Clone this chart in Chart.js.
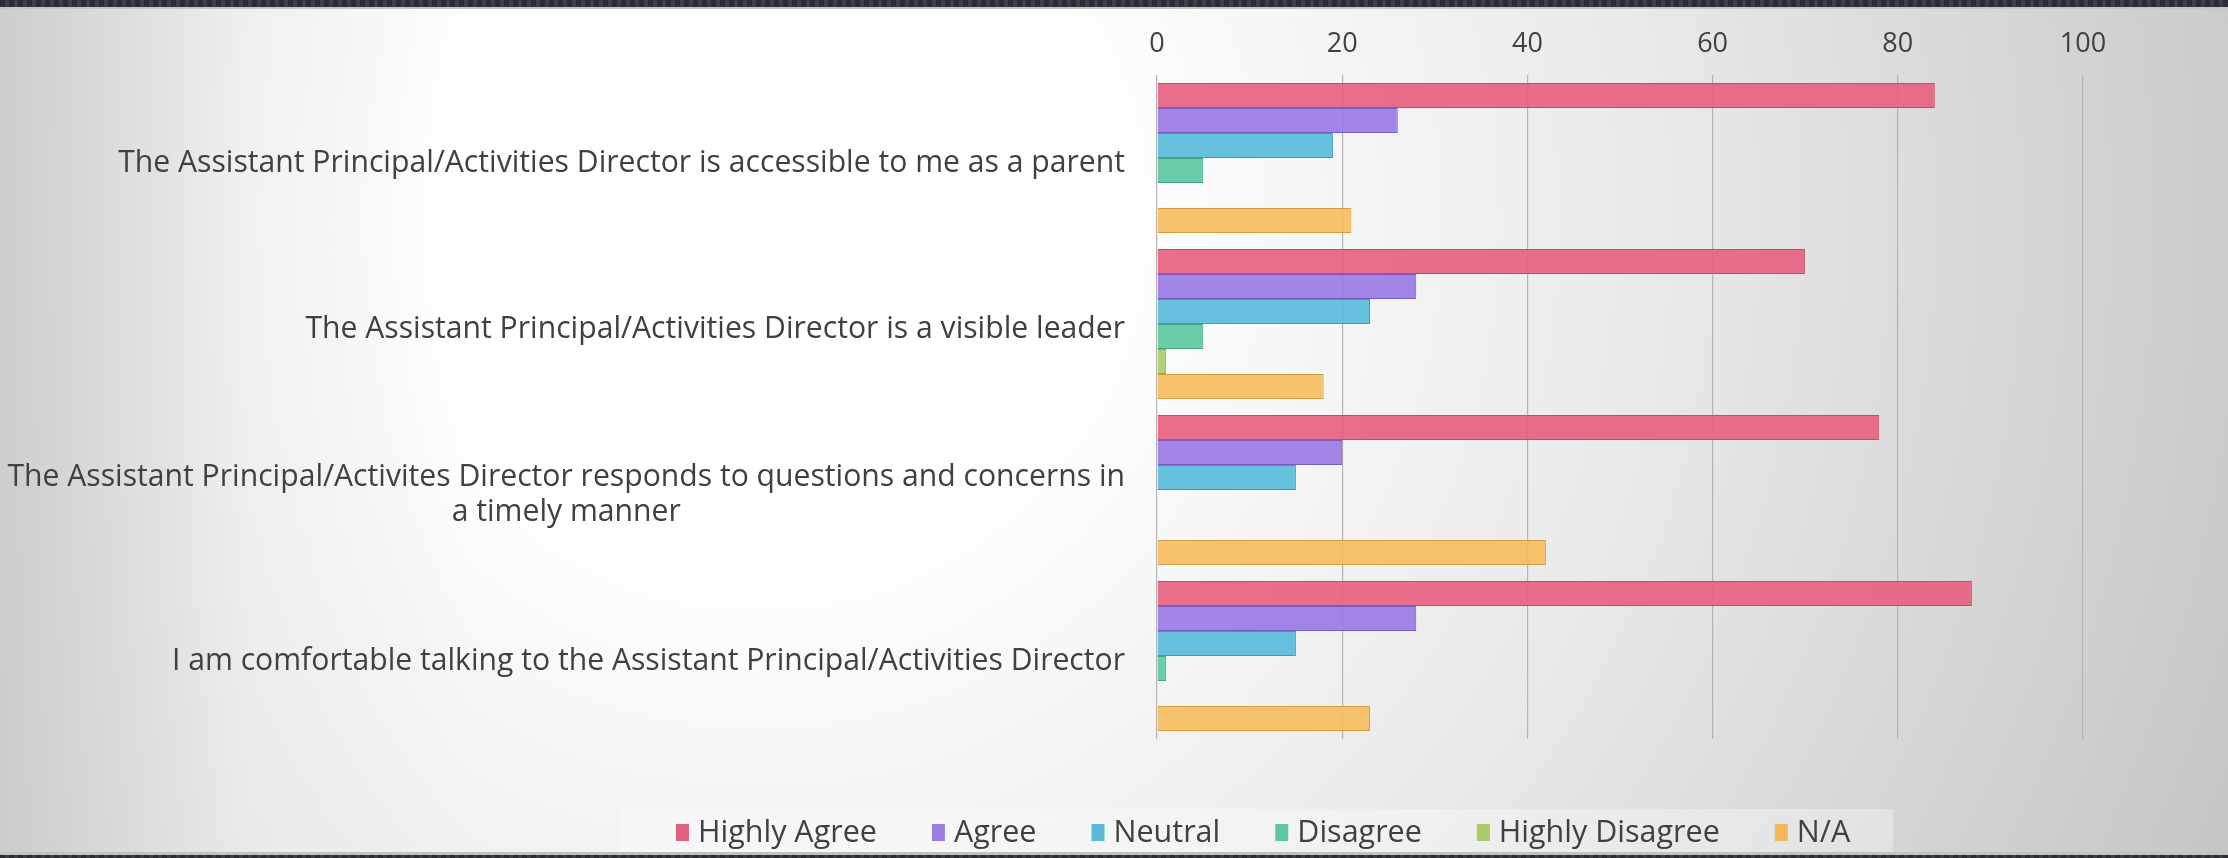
<!DOCTYPE html>
<html>
<head>
<meta charset="utf-8">
<script src="https://cdn.jsdelivr.net/npm/chart.js@4/dist/chart.umd.min.js"></script>
<style>
  html, body { margin: 0; padding: 0; width: 2228px; height: 858px; overflow: hidden; }
  body {
    position: relative;
    background:
      linear-gradient(to right, rgba(200,200,200,0.85) 0px, rgba(230,230,230,0.4) 250px, rgba(255,255,255,0) 470px),
      radial-gradient(circle at 760px 220px, #ffffff 0px, #ffffff 330px, #e9e9e9 900px, #d2d2d2 1350px, #bdbdbd 1750px);
  }
  #topbar { position: absolute; left: 0; top: 0; width: 2228px; height: 7px;
    background: repeating-linear-gradient(90deg, #2a2d34 0 5px, #3b3f48 5px 9px); border-bottom: 2px solid #c6c6c6; }
  #botbar { position: absolute; left: 0; top: 852px; width: 2228px; height: 3px; background: #c2c2c2; }
  #botbar2 { position: absolute; left: 0; top: 855px; width: 2228px; height: 3px;
    background: repeating-linear-gradient(90deg, #2a2d34 0 5px, #3b3f48 5px 9px); }
  #wrap { position: absolute; left: 0; top: 0; width: 2228px; height: 858px; }
</style>
</head>
<body>
<div id="topbar"></div>
<div id="botbar"></div>
<div id="botbar2"></div>
<div id="wrap"><canvas id="c"></canvas></div>
<script>
// ---------- data ----------
const categories = [
  "The Assistant Principal/Activities Director is accessible to me as a parent",
  "The Assistant Principal/Activities Director is a visible leader",
  ["The Assistant Principal/Activites Director responds to questions and concerns in", "a timely manner"],
  "I am comfortable talking to the Assistant Principal/Activities Director"
];
const seriesNames = ["Highly Agree", "Agree", "Neutral", "Disagree", "Highly Disagree", "N/A"];
const highlyAgree    = [84, 70, 78, 88];
const agree          = [26, 28, 20, 28];
const neutral        = [19, 23, 15, 15];
const disagree       = [5, 5, 0, 1];
const highlyDisagree = [0, 1, 0, 0];
const notApplicable  = [21, 18, 42, 23];
const xTicks = [0, 20, 40, 60, 80, 100];

// ---------- styles ----------
const seriesValues = [highlyAgree, agree, neutral, disagree, highlyDisagree, notApplicable];
const fills   = ["rgba(230,98,130,0.92)", "rgba(155,122,229,0.92)", "rgba(88,188,219,0.92)", "rgba(92,202,160,0.92)", "rgba(168,208,106,0.92)", "rgba(246,189,95,0.92)"];
const borders = ["#c24d69", "#7a5cc4", "#3c9bba", "#3ea680", "#86ad4c", "#d49c43"];
const legendColors = ["#e0627f", "#9d7de3", "#5ab9d7", "#5cc7a0", "#a9cc68", "#f2b95c"];
const FAMILY = "'Open Sans', 'Noto Sans', sans-serif";
const TEXT = "#404040";

const measureCtx = document.createElement("canvas").getContext("2d");
function fitSize(text, target) {
  measureCtx.font = "100px " + FAMILY;
  return 100 * target / measureCtx.measureText(text).width;
}
const labelSize = (fitSize(categories[0], 1014) + fitSize(categories[2][0], 1110)) / 2;
const legendSize = fitSize(seriesNames[0], 179);

const yLabelPlugin = {
  id: "yLabels",
  afterDraw(chart) {
    const ctx = chart.ctx, ys = chart.scales.y;
    ctx.save();
    ctx.font = labelSize.toFixed(2) + "px " + FAMILY;
    ctx.fillStyle = TEXT;
    ctx.textAlign = "center";
    ctx.textBaseline = "middle";
    const lineH = 35;
    categories.forEach((lab, i) => {
      const lines = Array.isArray(lab) ? lab : [lab];
      const yc = ys.getPixelForValue(i) + 5;
      const bw = Math.max(...lines.map(l => ctx.measureText(l).width));
      const cx = chart.chartArea.left - 32 - bw / 2;
      lines.forEach((l, j) => ctx.fillText(l, cx, yc + (j - (lines.length - 1) / 2) * lineH));
    });
    ctx.restore();
  }
};

const legendPlugin = {
  id: "customLegend",
  afterDraw(chart) {
    const ctx = chart.ctx;
    ctx.save();
    ctx.fillStyle = "rgba(255,255,255,0.32)";
    ctx.fillRect(620, 809, 1273, 43);
    ctx.font = legendSize.toFixed(2) + "px " + FAMILY;
    ctx.textBaseline = "middle";
    ctx.textAlign = "left";
    let x = 676;
    const yc = 833;
    chart.data.datasets.forEach((ds, i) => {
      ctx.fillStyle = legendColors[i];
      ctx.fillRect(x, yc - 9, 13, 17);
      ctx.fillStyle = TEXT;
      ctx.fillText(ds.label, x + 22, yc);
      x += 22 + ctx.measureText(ds.label).width + 55;
    });
    ctx.restore();
  }
};

new Chart(document.getElementById("c"), {
  type: "bar",
  data: {
    labels: categories,
    datasets: seriesNames.map((name, i) => ({
      label: name,
      data: seriesValues[i],
      backgroundColor: fills[i],
      borderColor: borders[i],
      borderWidth: 1,
      categoryPercentage: 0.904,
      barPercentage: 1.0
    }))
  },
  options: {
    indexAxis: "y",
    responsive: true,
    maintainAspectRatio: false,
    animation: false,
    layout: { padding: { left: 0, right: 145, top: 0, bottom: 119 } },
    plugins: { legend: { display: false }, tooltip: { enabled: false } },
    scales: {
      x: {
        position: "top",
        min: 0, max: 100,
        afterBuildTicks: s => { s.ticks = xTicks.map(v => ({ value: v })); },
        ticks: { color: TEXT, font: { family: FAMILY, size: 27 }, padding: 14 },
        grid: { color: "#b4b4b4", lineWidth: 1.2, drawTicks: false },
        border: { display: false },
        afterFit: s => { s.height = 75; }
      },
      y: {
        ticks: { display: false },
        grid: { display: false },
        border: { display: false },
        afterFit: s => { s.width = 1157; }
      }
    }
  },
  plugins: [yLabelPlugin, legendPlugin]
});
</script>
</body>
</html>
